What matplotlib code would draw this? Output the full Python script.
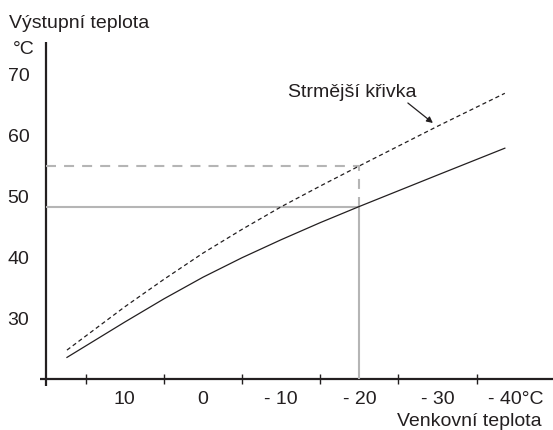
import matplotlib
matplotlib.use("Agg")
import matplotlib.pyplot as plt

plt.rcParams['font.family'] = ['Liberation Sans', 'DejaVu Sans']
plt.rcParams['lines.scale_dashes'] = False

# Data
outdoor = [17.4, 10, 5, 0, -5, -10, -15, -20, -30, -38.6]
normal_curve = [23.7, 29.5, 33.3, 36.85, 40.05, 43.0, 45.8, 48.45, 53.6, 58.0]
steep_curve = [24.9, 32.0, 36.5, 40.8, 44.7, 48.4, 51.8, 55.1, 61.6, 67.0]

ref_outdoor = -20
ref_normal = 48.4
ref_steep = 55.0

x_ticks = [15, 5, -5, -15, -25, -35]
x_label_pos = [10, 0, -10, -20, -30, -40]
x_labels = ["10", "0", "- 10", "- 20", "- 30", "- 40°C"]
y_label_pos = [70, 60, 50, 40, 30]
y_labels = ["70", "60", "50", "40", "30"]

ink = '#231f20'
gray = '#b5b5b5'
fs = 14

fig = plt.figure(figsize=(5.53, 4.30), dpi=100)
W, H = 553, 430
ax = fig.add_axes([46 / W, (H - 379) / H, (553 - 46) / W, (379 - 42) / H])
xlim = (20.08, -44.76)
ylim = (20.16, 75.41)
ax.set_xlim(*xlim)
ax.set_ylim(*ylim)
for s in ax.spines.values():
    s.set_visible(False)

# axis lines
ax.plot([0, 0], [-0.02, 1.0], transform=ax.transAxes, color=ink, lw=1.6,
        clip_on=False, solid_capstyle='butt')
ax.plot([-0.012, 1.0], [0, 0], transform=ax.transAxes, color=ink, lw=1.6,
        clip_on=False, solid_capstyle='butt')

# reference lines
ax.plot([xlim[0], ref_outdoor], [ref_normal, ref_normal], color=gray, lw=1.5,
        solid_capstyle='butt')
ax.plot([xlim[0], ref_outdoor], [ref_steep, ref_steep], color=gray, lw=1.5,
        dashes=(7.2, 5.8))
ax.plot([ref_outdoor, ref_outdoor], [ylim[0], ref_normal], color=gray, lw=1.5,
        solid_capstyle='butt')
ax.plot([ref_outdoor, ref_outdoor], [ref_normal, ref_steep], color=gray, lw=1.5,
        dashes=(7.2, 5.8))

# curves
ax.plot(outdoor, normal_curve, color=ink, lw=0.9)
ax.plot(outdoor, steep_curve, color=ink, lw=0.9, dashes=(3.0, 2.2))

# ticks
ax.set_xticks(x_ticks)
ax.set_xticklabels([])
ax.tick_params(axis='x', which='major', direction='inout', length=7, width=1,
               color=ink)
ax.set_xticks(x_label_pos, minor=True)
ax.set_xticklabels(x_labels, minor=True)
ax.tick_params(axis='x', which='minor', length=0, pad=9, labelsize=fs,
               labelcolor=ink)
ax.set_yticks(y_label_pos)
ax.set_yticklabels(y_labels)
ax.tick_params(axis='y', length=0, pad=12, labelsize=fs, labelcolor=ink)

# annotation
ax.text(-19.05, 67.2, "Strmější křivka", ha='center', va='center',
        fontsize=fs, color=ink)
ax.annotate("", xy=(-29.4, 62.13), xytext=(-26.2, 65.41),
            arrowprops=dict(arrowstyle='-|>', color=ink, lw=0.9,
                            mutation_scale=9, shrinkA=0, shrinkB=0))

# axis titles
fig.text(9 / W, 1 - 23 / H, "Výstupní teplota", ha='left', va='center',
         fontsize=fs, color=ink)
fig.text(13 / W, 1 - 49 / H, "°C", ha='left', va='center',
         fontsize=fs, color=ink)
fig.text(397 / W, 1 - 421 / H, "Venkovní teplota", ha='left', va='center',
         fontsize=fs, color=ink)

fig.savefig("out.png", dpi=100)
